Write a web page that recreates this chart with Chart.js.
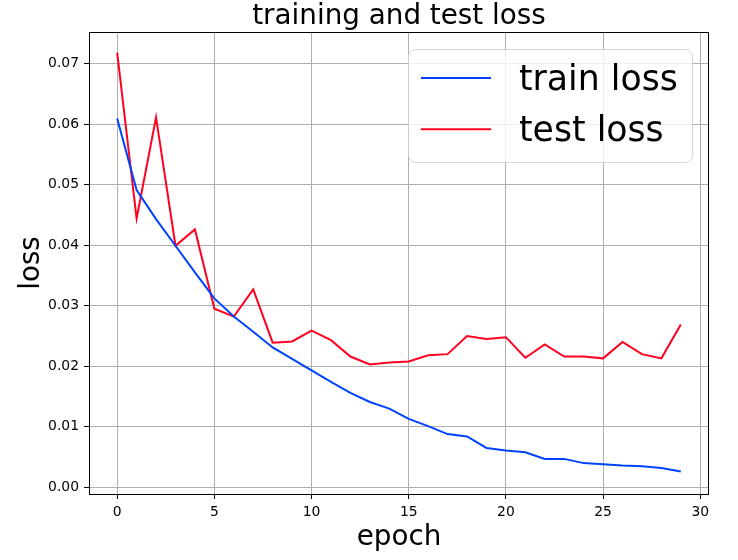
<!DOCTYPE html>
<html>
<head>
<meta charset="utf-8">
<script src="https://cdn.jsdelivr.net/npm/chart.js@4"></script>
<style>
  html, body { margin: 0; padding: 0; background: #fff; }
  #wrap { width: 738px; height: 560px; }
</style>
</head>
<body>
<div id="wrap"><canvas id="lossChart" width="738" height="560"></canvas></div>
<script>
const epochs = [0, 1, 2, 3, 4, 5, 6, 7, 8, 9, 10, 11, 12, 13, 14, 15, 16, 17, 18, 19, 20, 21, 22, 23, 24, 25, 26, 27, 28, 29];
const trainLoss = [0.0609, 0.0491, 0.0443, 0.0399, 0.0355, 0.0312, 0.0282, 0.0257, 0.0231, 0.0212,
                   0.0193, 0.0174, 0.0156, 0.0141, 0.0130, 0.0113, 0.0101, 0.0088, 0.0084, 0.0065,
                   0.0061, 0.0058, 0.0047, 0.0047, 0.0040, 0.0038, 0.0036, 0.0035, 0.0032, 0.0026];
const testLoss = [0.0718, 0.0444, 0.0611, 0.0399, 0.0426, 0.0295, 0.0282, 0.0327, 0.0239, 0.0241,
                  0.0259, 0.0243, 0.0216, 0.0203, 0.0206, 0.0208, 0.0218, 0.0220, 0.0250, 0.0245,
                  0.0248, 0.0214, 0.0236, 0.0216, 0.0216, 0.0213, 0.0240, 0.0220, 0.0213, 0.0269];
const xTicks = [0, 5, 10, 15, 20, 25, 30];
const yTicks = [0, 0.01, 0.02, 0.03, 0.04, 0.05, 0.06, 0.07];

const FONT = 'DejaVu Sans';
const blue = '#0043ff';
const red = '#ff0021';

const toPoints = vals => epochs.map((e, i) => ({ x: e, y: vals[i] }));

// frame, title and legend drawn the matplotlib way
const extras = {
    id: 'extras',
    afterDatasetsDraw(chart) {
        const { ctx, chartArea: a } = chart;
        ctx.save();
        ctx.strokeStyle = '#000';
        ctx.lineWidth = 1;
        ctx.strokeRect(a.left + 0.5, a.top + 0.5, a.right - a.left - 1, a.bottom - a.top);

        // legend box
        const bw = 284, bh = 113;
        const bx = a.right - 17 - bw, by = a.top + 17;
        ctx.beginPath();
        ctx.roundRect(bx + 0.5, by + 0.5, bw, bh, 7);
        ctx.fillStyle = 'rgba(255,255,255,0.8)';
        ctx.fill();
        ctx.strokeStyle = 'rgba(204,204,204,0.8)';
        ctx.stroke();
        ctx.font = '34.7px "' + FONT + '"';
        ctx.textBaseline = 'middle';
        ctx.textAlign = 'left';
        chart.data.datasets.forEach((ds, i) => {
            const ry = by + 29 + i * 51.3;
            ctx.beginPath();
            ctx.moveTo(bx + 13, ry);
            ctx.lineTo(bx + 83, ry);
            ctx.strokeStyle = ds.borderColor;
            ctx.lineWidth = 2;
            ctx.stroke();
            ctx.fillStyle = '#000';
            ctx.fillText(ds.label, bx + 111, ry + 3);
        });

        // title
        ctx.font = '27.8px "' + FONT + '"';
        ctx.textAlign = 'center';
        ctx.textBaseline = 'alphabetic';
        ctx.fillStyle = '#000';
        ctx.fillText('training and test loss', (a.left + a.right) / 2, 24);
        ctx.restore();
    }
};

new Chart(document.getElementById('lossChart'), {
    type: 'line',
    data: {
        datasets: [{
            label: 'train loss',
            data: toPoints(trainLoss),
            borderColor: blue,
            backgroundColor: blue,
            borderWidth: 2,
            pointRadius: 0,
            tension: 0
        }, {
            label: 'test loss',
            data: toPoints(testLoss),
            borderColor: red,
            backgroundColor: red,
            borderWidth: 2,
            pointRadius: 0,
            tension: 0
        }]
    },
    options: {
        responsive: false,
        animation: false,
        devicePixelRatio: 1,
        layout: { padding: { top: 32, right: 29, left: 0, bottom: 0 } },
        plugins: {
            legend: { display: false },
            title: { display: false },
            tooltip: { enabled: false }
        },
        scales: {
            x: {
                type: 'linear',
                min: -1.45,
                max: 30.45,
                afterFit: s => { s.height = 66; },
                afterBuildTicks: s => { s.ticks = xTicks.map(v => ({ value: v })); },
                grid: { color: '#b0b0b0', lineWidth: 1, tickColor: '#000', tickLength: 5 },
                border: { display: false },
                ticks: {
                    color: '#000',
                    padding: 5,
                    maxRotation: 0,
                    font: { family: FONT, size: 13.9 },
                    callback: v => String(v)
                },
                title: {
                    display: true,
                    text: 'epoch',
                    color: '#000',
                    font: { family: FONT, size: 27.8, lineHeight: 1.2 },
                    padding: { top: 0, bottom: 6 }
                }
            },
            y: {
                type: 'linear',
                min: -0.0011,
                max: 0.0752,
                afterFit: s => { s.width = 89; },
                afterBuildTicks: s => { s.ticks = yTicks.map(v => ({ value: v })); },
                grid: { color: '#b0b0b0', lineWidth: 1, tickColor: '#000', tickLength: 5 },
                border: { display: false },
                ticks: {
                    color: '#000',
                    padding: 5,
                    font: { family: FONT, size: 13.9 },
                    callback: v => v.toFixed(2)
                },
                title: {
                    display: true,
                    text: 'loss',
                    color: '#000',
                    font: { family: FONT, size: 27.8, lineHeight: 1.2 },
                    padding: { top: 15, bottom: 0 }
                }
            }
        }
    },
    plugins: [extras]
});
</script>
</body>
</html>
